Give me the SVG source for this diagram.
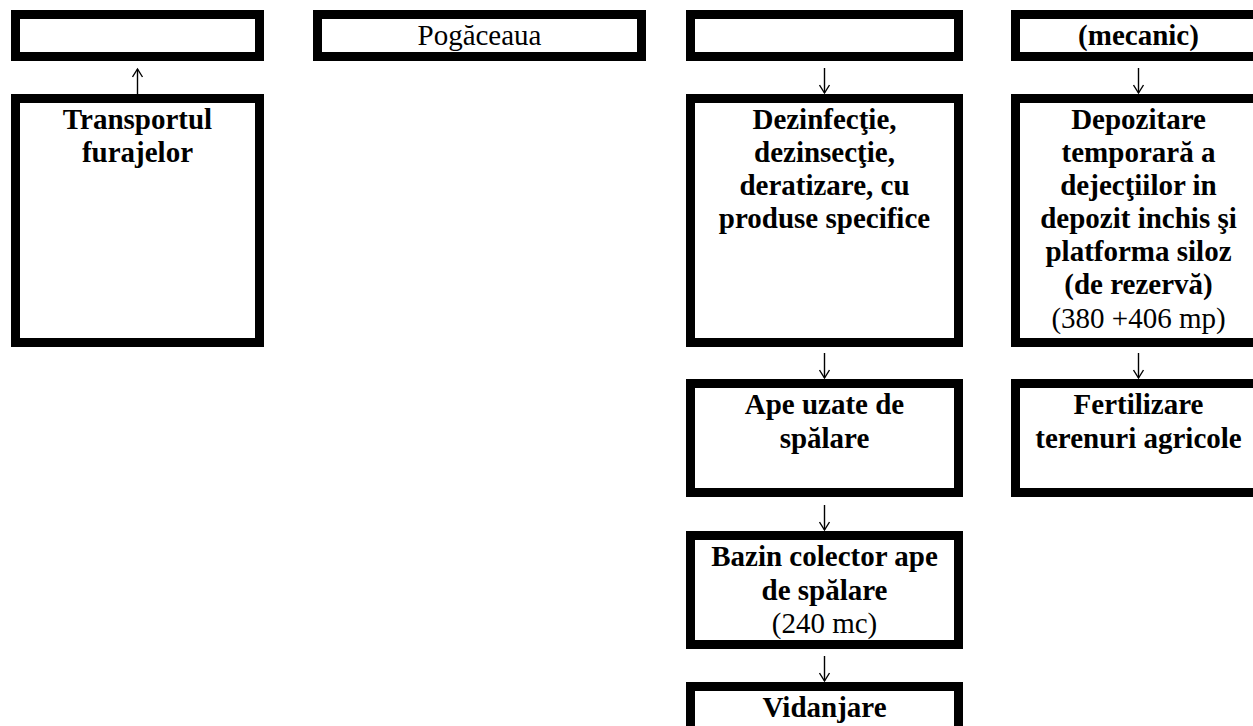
<svg xmlns="http://www.w3.org/2000/svg" width="1253" height="726" viewBox="0 0 1253 726">
<style>
.box{fill:#fff;stroke:#000;stroke-width:9}
.t{font-family:"Liberation Serif","Times New Roman",serif;font-size:29px;fill:#000;text-anchor:middle}
.b{font-weight:bold}
.arr{fill:none;stroke:#000;stroke-width:1.4;marker-end:url(#ah)}
</style>
<defs>
<marker id="ah" viewBox="-10 -6 12 12" refX="0" refY="0" markerWidth="12" markerHeight="12" markerUnits="userSpaceOnUse" orient="auto">
<path d="M-8,-5 L0,0 L-8,5" fill="none" stroke="#000" stroke-width="1.4"/>
</marker>
</defs>
<rect width="1253" height="726" fill="#fff"/>
<g id="connectors">
<path class="arr" d="M137.5,95 L137.5,69"/>
<path class="arr" d="M824.5,68 L824.5,93"/>
<path class="arr" d="M824.5,353 L824.5,378"/>
<path class="arr" d="M824.5,505 L824.5,530"/>
<path class="arr" d="M824.5,656 L824.5,681"/>
<path class="arr" d="M1138.5,68 L1138.5,93"/>
<path class="arr" d="M1138.5,353 L1138.5,378"/>
</g>
<g id="n1"><rect class="box" x="15.5" y="14.5" width="244" height="42"/></g>
<g id="n2"><rect class="box" x="317.5" y="14.5" width="324" height="42"/><text class="t" x="479.5" y="45">Pogăceaua</text></g>
<g id="n3"><rect class="box" x="690.5" y="14.5" width="268" height="42"/></g>
<g id="n4"><rect class="box" x="1015.5" y="14.5" width="246" height="42"/><text class="t b" x="1138.5" y="45">(mecanic)</text></g>
<g id="n5"><rect class="box" x="15.5" y="98.5" width="244" height="244"/>
<text class="t b" x="137.5" y="129">Transportul</text>
<text class="t b" x="137.5" y="162">furajelor</text></g>
<g id="n6"><rect class="box" x="690.5" y="98.5" width="268" height="244"/>
<text class="t b" x="824.5" y="129">Dezinfecţie,</text>
<text class="t b" x="824.5" y="162">dezinsecţie,</text>
<text class="t b" x="824.5" y="195">deratizare, cu</text>
<text class="t b" x="824.5" y="228">produse specifice</text></g>
<g id="n7"><rect class="box" x="1015.5" y="98.5" width="246" height="244"/>
<text class="t b" x="1138.5" y="129">Depozitare</text>
<text class="t b" x="1138.5" y="162">temporară a</text>
<text class="t b" x="1138.5" y="195">dejecţiilor in</text>
<text class="t b" x="1138.5" y="228">depozit inchis şi</text>
<text class="t b" x="1138.5" y="261">platforma siloz</text>
<text class="t b" x="1138.5" y="294">(de rezervă)</text>
<text class="t" x="1138.5" y="328">(380 +406 mp)</text></g>
<g id="n8"><rect class="box" x="690.5" y="383.5" width="268" height="109"/>
<text class="t b" x="824.5" y="414">Ape uzate de</text>
<text class="t b" x="824.5" y="448">spălare</text></g>
<g id="n9"><rect class="box" x="1015.5" y="383.5" width="246" height="109"/>
<text class="t b" x="1138.5" y="414">Fertilizare</text>
<text class="t b" x="1138.5" y="448">terenuri agricole</text></g>
<g id="n10"><rect class="box" x="690.5" y="535.5" width="268" height="109"/>
<text class="t b" x="824.5" y="566">Bazin colector ape</text>
<text class="t b" x="824.5" y="599.5">de spălare</text>
<text class="t" x="824.5" y="633">(240 mc)</text></g>
<g id="n11"><rect class="box" x="690.5" y="686.5" width="268" height="60"/>
<text class="t b" x="824.5" y="717">Vidanjare</text></g>
</svg>
